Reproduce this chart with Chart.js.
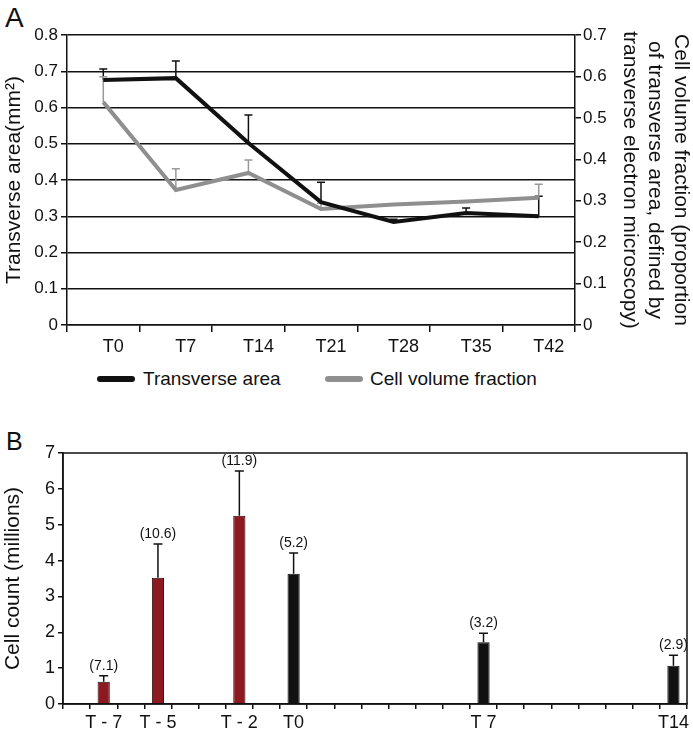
<!DOCTYPE html>
<html lang="en">
<head>
<meta charset="UTF-8" />
<title>Transverse area and cell count</title>
<script src="https://cdn.jsdelivr.net/npm/chart.js@4"></script>
<style>
  body { margin: 0; width: 693px; height: 735px; position: relative; background: #fff;
         font-family: "Liberation Sans", Arial, sans-serif; color: #111; overflow: hidden; }
  .letter { position: absolute; line-height: 1; }
  .box { position: absolute; left: 0; width: 693px; }
  .legend-line { position: absolute; height: 6px; width: 38px; border-radius: 3px; }
  .legend-text { position: absolute; font-size: 19px; line-height: 1; white-space: nowrap; }
</style>
</head>
<body>
  <div class="letter" style="left: 5px; top: 4px; font-size: 28px;">A</div>
  <div class="letter" style="left: 6px; top: 429px; font-size: 25px;">B</div>

  <div class="box" style="top: 0; height: 362px;"><canvas id="chartA"></canvas></div>

  <div class="legend-line" style="left: 97px; top: 376px; background: #111;"></div>
  <div class="legend-text" style="left: 143px; top: 369px;">Transverse area</div>
  <div class="legend-line" style="left: 325px; top: 376px; background: #8f8f8f;"></div>
  <div class="legend-text" style="left: 370px; top: 369px;">Cell volume fraction</div>

  <div class="box" style="top: 395px; height: 340px;"><canvas id="chartB"></canvas></div>

<script>
"use strict";
// ---- panel A data ----
const weeks = ["T0", "T7", "T14", "T21", "T28", "T35", "T42"];
const transverseArea = [0.676, 0.681, 0.502, 0.339, 0.284, 0.309, 0.300];
const transverseAreaErr = [0.030, 0.047, 0.077, 0.055, 0.008, 0.014, 0.055];
const cellFraction = [0.538, 0.326, 0.367, 0.280, 0.291, 0.298, 0.307];
const cellFractionErr = [0.061, 0.051, 0.031, 0.014, null, null, 0.033];

// ---- panel B data ----
const days = ["", "T - 7", "", "T - 5", "", "", "T - 2", "", "T0",
              "", "", "", "", "", "", "T 7", "", "", "", "", "", "", "T14"];
const countBefore = [null, 0.62, null, 3.52, null, null, 5.25, null, null,
                     null, null, null, null, null, null, null, null, null, null, null, null, null, null];
const countBeforeErr = [null, 0.17, null, 0.94, null, null, 1.25, null, null,
                        null, null, null, null, null, null, null, null, null, null, null, null, null, null];
const countAfter = [null, null, null, null, null, null, null, null, 3.63,
                    null, null, null, null, null, null, 1.72, null, null, null, null, null, null, 1.07];
const countAfterErr = [null, null, null, null, null, null, null, null, 0.58,
                       null, null, null, null, null, null, 0.25, null, null, null, null, null, null, 0.29];
const notesBefore = [null, "(7.1)", null, "(10.6)", null, null, "(11.9)", null, null,
                     null, null, null, null, null, null, null, null, null, null, null, null, null, null];
const notesAfter = [null, null, null, null, null, null, null, null, "(5.2)",
                    null, null, null, null, null, null, "(3.2)", null, null, null, null, null, null, "(2.9)"];

Chart.defaults.font.family = "'Liberation Sans', Arial, sans-serif";
Chart.defaults.color = "#111";
Chart.defaults.animation = false;

// error bars (upper side only) drawn through the dataset's own y scale
function drawErrors(chart, opts) {
  const ctx = chart.ctx;
  chart.data.datasets.forEach((ds, di) => {
    if (!ds.errors) return;
    const meta = chart.getDatasetMeta(di);
    const yScale = chart.scales[meta.yAxisID];
    ctx.save();
    ctx.strokeStyle = ds.errorColor;
    ctx.lineWidth = opts.lineWidth;
    ds.data.forEach((v, i) => {
      const e = ds.errors[i];
      if (v == null || e == null) return;
      const x = meta.data[i].x;
      const y0 = yScale.getPixelForValue(v);
      const y1 = yScale.getPixelForValue(v + e);
      ctx.beginPath();
      ctx.moveTo(x, y0);
      ctx.lineTo(x, y1);
      ctx.moveTo(x - opts.cap / 2, y1);
      ctx.lineTo(x + opts.cap / 2, y1);
      ctx.stroke();
      if (ds.notes && ds.notes[i]) {
        ctx.fillStyle = "#111";
        ctx.font = opts.noteFont;
        ctx.textAlign = "center";
        ctx.textBaseline = "bottom";
        ctx.fillText(ds.notes[i], x, y1 - 3);
      }
    });
    ctx.restore();
  });
}
const errorBars = {
  id: "errorBars",
  beforeDatasetsDraw(chart, args, opts) { if (opts.under) drawErrors(chart, opts); },
  afterDatasetsDraw(chart, args, opts) { if (!opts.under) drawErrors(chart, opts); }
};
const frame = {
  id: "frame",
  afterDraw(chart, args, opts) {
    if (!opts.show) return;
    const a = chart.chartArea, ctx = chart.ctx;
    ctx.save();
    ctx.strokeStyle = "#111";
    ctx.lineWidth = 1.5;
    ctx.strokeRect(a.left, a.top, a.right - a.left, a.bottom - a.top);
    ctx.restore();
  }
};

new Chart(document.getElementById("chartA"), {
  type: "line",
  data: {
    labels: weeks,
    datasets: [
      {
        label: "Transverse area",
        data: transverseArea,
        errors: transverseAreaErr,
        errorColor: "#111",
        yAxisID: "y",
        borderColor: "#111",
        borderWidth: 4,
        pointRadius: 0,
        tension: 0
      },
      {
        label: "Cell volume fraction",
        data: cellFraction,
        errors: cellFractionErr,
        errorColor: "#999",
        yAxisID: "y1",
        borderColor: "#8f8f8f",
        borderWidth: 4,
        pointRadius: 0,
        tension: 0
      }
    ]
  },
  options: {
    responsive: true,
    maintainAspectRatio: false,
    layout: { padding: { top: 35, right: 0, bottom: 0, left: 0 } },
    plugins: {
      legend: { display: false },
      tooltip: { enabled: false },
      errorBars: { under: true, lineWidth: 1.5, cap: 8 },
      frame: { show: false }
    },
    scales: {
      x: {
        offset: true,
        grid: { offset: true, drawOnChartArea: false, tickLength: 7, color: "#111", lineWidth: 1.5 },
        border: { color: "#111", width: 1.5 },
        ticks: { font: { size: 18 }, labelOffset: 10, padding: 4, maxRotation: 0 },
        afterFit: (s) => { s.height = 37; }
      },
      y: {
        position: "left",
        min: 0, max: 0.8,
        grid: { color: "#111", lineWidth: 1.5, tickLength: 6 },
        border: { color: "#111", width: 1.5 },
        ticks: { stepSize: 0.1, font: { size: 17 }, padding: 3,
                 callback: (v) => v === 0 ? "0" : v.toFixed(1) },
        title: { display: true, text: "Transverse area(mm²)", font: { size: 21 }, padding: { top: 2, bottom: 0 } },
        afterFit: (s) => { s.width = 67; }
      },
      y1: {
        position: "right",
        min: 0, max: 0.7,
        grid: { drawOnChartArea: false, color: "#111", lineWidth: 1.5, tickLength: 6 },
        border: { color: "#111", width: 1.5 },
        ticks: { stepSize: 0.1, font: { size: 17 }, padding: 2,
                 callback: (v) => v === 0 ? "0" : v.toFixed(1) },
        title: { display: true,
                 text: ["Cell volume fraction (proportion", "of transverse area, defined by", "transverse electron microscopy)"],
                 font: { size: 21, lineHeight: 1.2 }, padding: { top: 0, bottom: 0 } },
        afterFit: (s) => { s.width = 118; }
      }
    }
  },
  plugins: [errorBars, frame]
});

new Chart(document.getElementById("chartB"), {
  type: "bar",
  data: {
    labels: days,
    datasets: [
      {
        label: "Before",
        data: countBefore,
        errors: countBeforeErr,
        notes: notesBefore,
        errorColor: "#111",
        backgroundColor: "#8c1a20",
        borderColor: "#2a0707",
        borderWidth: 1,
        grouped: false,
        barPercentage: 0.45,
        categoryPercentage: 1
      },
      {
        label: "After",
        data: countAfter,
        errors: countAfterErr,
        notes: notesAfter,
        errorColor: "#111",
        backgroundColor: "#111",
        borderColor: "#111",
        borderWidth: 1,
        grouped: false,
        barPercentage: 0.45,
        categoryPercentage: 1
      }
    ]
  },
  options: {
    responsive: true,
    maintainAspectRatio: false,
    layout: { padding: { top: 58, right: 6, bottom: 0, left: 0 } },
    plugins: {
      legend: { display: false },
      tooltip: { enabled: false },
      errorBars: { under: false, lineWidth: 1.5, cap: 9, noteFont: "14px 'Liberation Sans', Arial, sans-serif" },
      frame: { show: true }
    },
    scales: {
      x: {
        offset: true,
        grid: { offset: true, drawOnChartArea: false, tickLength: 5, color: "#111", lineWidth: 1.5 },
        border: { color: "#111", width: 1.5 },
        ticks: { font: { size: 18 }, padding: 3, autoSkip: false, maxRotation: 0 },
        afterFit: (s) => { s.height = 31; }
      },
      y: {
        min: 0, max: 7,
        grid: { drawOnChartArea: false, color: "#111", lineWidth: 1.5, tickLength: 5 },
        border: { color: "#111", width: 1.5 },
        ticks: { stepSize: 1, font: { size: 18 }, padding: 3 },
        title: { display: true, text: "Cell count (millions)", font: { size: 21 }, padding: { top: 1, bottom: 0 } },
        afterFit: (s) => { s.width = 63; }
      }
    }
  },
  plugins: [errorBars, frame]
});
</script>
</body>
</html>
